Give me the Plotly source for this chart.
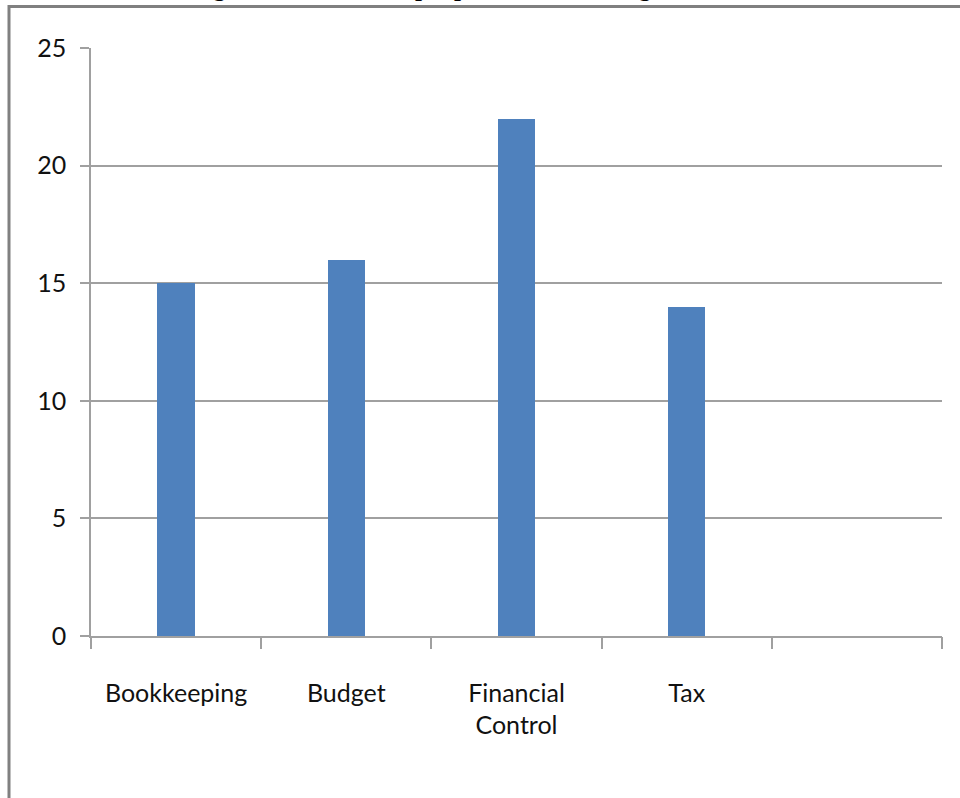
import plotly.graph_objects as go

categories = ["Bookkeeping", "Budget", "Financial<br>Control", "Tax"]
values = [15, 16, 22, 14]
y_ticks = [0, 5, 10, 15, 20, 25]
n_slots = 5  # the category axis has one extra, empty slot at the right
title_text = "Figure 10: The main purpose of accounting in a business"

W, H = 960, 798
L, R, T, B = 91, 18, 48, 162
pw, ph = W - L - R, H - T - B

def px_x(x):
    return (x - L) / pw

def px_y(y):
    return (H - B - y) / ph

font_fam = "Lato, Liberation Sans, sans-serif"
grid_col = "#a0a0a0"
boundaries = [i - 0.5 for i in range(n_slots + 1)]

fig = go.Figure()
fig.add_trace(go.Bar(
    x=categories, y=values, width=0.22,
    marker=dict(color="#4f81bd", line=dict(width=0)),
    showlegend=False,
))
# empty helper trace so the boundary-tick axis is drawn
fig.add_trace(go.Scatter(x=[], y=[], xaxis="x2", yaxis="y",
                         mode="markers", showlegend=False, hoverinfo="skip"))

fig.update_layout(
    width=W, height=H,
    margin=dict(l=L, r=R, t=T, b=B, pad=0),
    paper_bgcolor="white", plot_bgcolor="white",
    showlegend=False,
    font=dict(family=font_fam, color="#111111", size=25),
    xaxis=dict(
        type="category",
        range=[-0.5, n_slots - 0.5],
        ticks="",
        showline=True, linecolor=grid_col, linewidth=1.5,
        showgrid=False,
        tickangle=0,
        tickfont=dict(size=25, family=font_fam),
        ticklabelstandoff=34,
    ),
    xaxis2=dict(
        overlaying="x", anchor="y", side="bottom",
        range=[-0.5, n_slots - 0.5],
        tickvals=boundaries,
        showticklabels=False,
        ticks="outside", ticklen=12, tickwidth=1.5, tickcolor=grid_col,
        showline=False, showgrid=False, zeroline=False,
    ),
    yaxis=dict(
        range=[0, 25],
        tickvals=y_ticks,
        ticktext=[str(v) for v in y_ticks],
        ticks="outside", ticklen=9, tickwidth=1.5, tickcolor=grid_col,
        showline=True, linecolor=grid_col, linewidth=1.5,
        showgrid=True, gridcolor=grid_col, gridwidth=2,
        zeroline=False,
        tickfont=dict(size=25, family=font_fam),
        ticklabelstandoff=9,
    ),
    bargap=0,
)

# outer frame of the chart object (extends past right and bottom edges)
fig.add_shape(type="rect", xref="paper", yref="paper",
              x0=px_x(9), x1=px_x(990), y0=px_y(830), y1=px_y(6.5),
              line=dict(color="#808080", width=3), fillcolor="rgba(0,0,0,0)",
              layer="above")

# caption, mostly cut off above the page
fig.add_annotation(
    text="<b>" + title_text + "</b>",
    xref="paper", yref="paper", x=px_x(492), y=px_y(-12.5),
    xanchor="center", yanchor="middle", showarrow=False,
    font=dict(family="Liberation Serif, Times New Roman, serif", size=25, color="black"),
)

fig.write_html("out.html")
